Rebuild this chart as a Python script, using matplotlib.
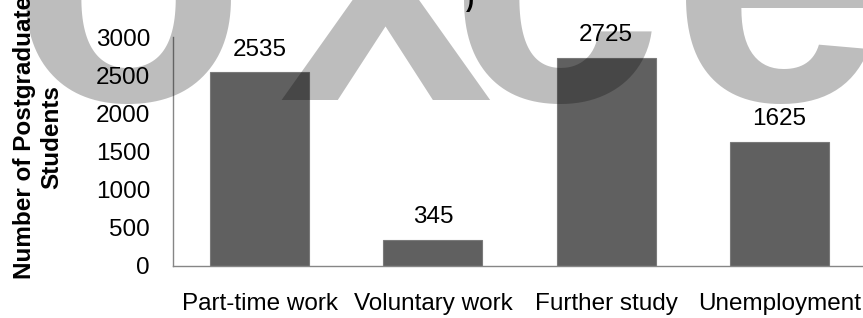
import matplotlib
matplotlib.use("Agg")
import matplotlib.pyplot as plt

categories = ["Part-time work", "Voluntary work", "Further study", "Unemployment"]
values = [2535, 345, 2725, 1625]
yticks = [0, 500, 1000, 1500, 2000, 2500, 3000]
ylabel = "Number of Postgraduate\nStudents"
watermark = "oxce"
watermark_px = [128, 385, 556, 778]   # horizontal centres of watermark letters (pixels)

W, H = 863, 318
FS = 17.5
plt.rcParams['font.family'] = ['Liberation Sans', 'DejaVu Sans']
fig = plt.figure(figsize=(W / 100, H / 100), dpi=100)
fig.patch.set_facecolor('white')

left, right, bottom, top = 173, 866, 266, 37
ax = fig.add_axes([left / W, 1 - bottom / H, (right - left) / W, (bottom - top) / H])

x = list(range(len(categories)))
ax.bar(x, values, width=0.571, color='#606060', edgecolor='#7a7a7a', linewidth=0.8, zorder=2)
ax.set_xlim(-0.5, len(categories) - 0.5)
ax.set_ylim(0, 3000)
ax.set_yticks(yticks)
ax.set_yticklabels([str(t) for t in yticks])
ax.set_xticks(x)
ax.set_xticklabels(categories)

for s in ['top', 'right']:
    ax.spines[s].set_visible(False)
for s in ['left', 'bottom']:
    ax.spines[s].set_color('#868686')
    ax.spines[s].set_linewidth(1.0)

ax.tick_params(axis='y', length=0, pad=16.5, labelsize=FS, colors='black')
ax.tick_params(axis='x', length=0, pad=19.5, labelsize=FS, colors='black')

for xi, v in zip(x, values):
    ax.annotate(str(v), (xi, v), xytext=(0, 12), textcoords='offset points',
                ha='center', va='baseline', fontsize=FS, color='black')

fig.text(38 / W, 1 - 137 / H, ylabel, rotation=90, ha='center', va='center',
         multialignment='center', fontsize=FS, fontweight='bold', color='black')

# partially visible title remnant
fig.text(470 / W, 1 - 7 / H, ")", ha='center', va='baseline', fontsize=FS,
         fontweight='bold', color='black')

# large semi-transparent watermark
for ch, px in zip(watermark, watermark_px):
    fig.text(px / W, 1 - 100 / H, ch, ha='center', va='baseline', fontsize=277,
             fontweight='bold', color='black', alpha=0.26, zorder=10)

fig.savefig("out.png", dpi=100, facecolor='white')
